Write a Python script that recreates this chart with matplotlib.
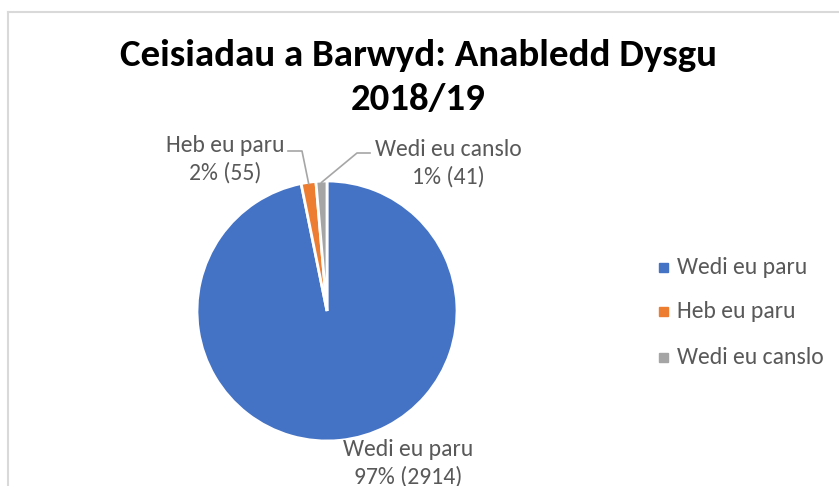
import numpy as np
import matplotlib
matplotlib.use("Agg")
from matplotlib import pyplot as plt
from matplotlib.lines import Line2D

# data
labels = ['Wedi eu paru', 'Heb eu paru', 'Wedi eu canslo']
values = [2914, 55, 41]
colors = ['#4472C4', '#ED7D31', '#A5A5A5']
title = "Ceisiadau a Barwyd: Anabledd Dysgu\n2018/19"

plt.rcParams['font.family'] = ['Carlito', 'Liberation Sans Narrow', 'Open Sans', 'DejaVu Sans']

W, H = 839, 486
fig = plt.figure(figsize=(W / 100, H / 100), dpi=100)

# chart frame (top and left edge visible)
fig.add_artist(Line2D([8 / W, 8 / W], [0, 1 - 12 / H], color='#D9D9D9', lw=1.5))
fig.add_artist(Line2D([8 / W, 1], [1 - 12 / H, 1 - 12 / H], color='#D9D9D9', lw=1.5))

# title, two lines
for i, line in enumerate(title.split('\n')):
    fig.text(418 / W, 1 - (55 + 45 * i) / H, line, ha='center', va='center',
             fontsize=28, fontweight='bold', color='black')

# pie axes: centre (327, 311) px, radius 130 px
cx, cy, r = 327, 311, 130
ax = fig.add_axes([(cx - r) / W, (H - cy - r) / H, 2 * r / W, 2 * r / H])
wedges, _ = ax.pie(values, colors=colors, startangle=90, counterclock=False,
                   radius=1, wedgeprops=dict(edgecolor='white', linewidth=2))
ax.set_xlim(-1, 1)
ax.set_ylim(-1, 1)
ax.set_aspect('equal')
ax.axis('off')

total = sum(values)
texts = [f"{l}\n{round(v / total * 100)}% ({v})" for l, v in zip(labels, values)]


def px(x, y):
    return (x - cx) / r, (cy - y) / r


lab_col = '#595959'
fs = 17
# data labels (centre of label block in pixels)
for t, (lx, ly) in zip(texts, [(408, 463), (225, 159), (448, 163)]):
    ax.text(*px(lx, ly), t, ha='center', va='center', fontsize=fs,
            color=lab_col, clip_on=False, linespacing=1.32)

# leader lines from small slices
for w, (ex, ey), (hx, hy) in [(wedges[1], (302, 151), (288, 151)),
                               (wedges[2], (357, 153), (370, 153))]:
    ang = np.deg2rad((w.theta1 + w.theta2) / 2)
    x0, y0 = 0.99 * np.cos(ang), 0.99 * np.sin(ang)
    x1, y1 = px(ex, ey)
    x2, y2 = px(hx, hy)
    ax.plot([x0, x1, x2], [y0, y1, y2], color='#A6A6A6', lw=1.2, clip_on=False)

# legend
for i, (l, c) in enumerate(zip(labels, colors)):
    yy = 1 - (267 + 45 * i) / H
    fig.patches.append(plt.Rectangle((659 / W, yy - 4.5 / H), 9 / W, 9 / H,
                                     transform=fig.transFigure, color=c))
    fig.text(677 / W, yy, l, ha='left', va='center', fontsize=fs, color=lab_col)

fig.savefig('out.png', dpi=100)
